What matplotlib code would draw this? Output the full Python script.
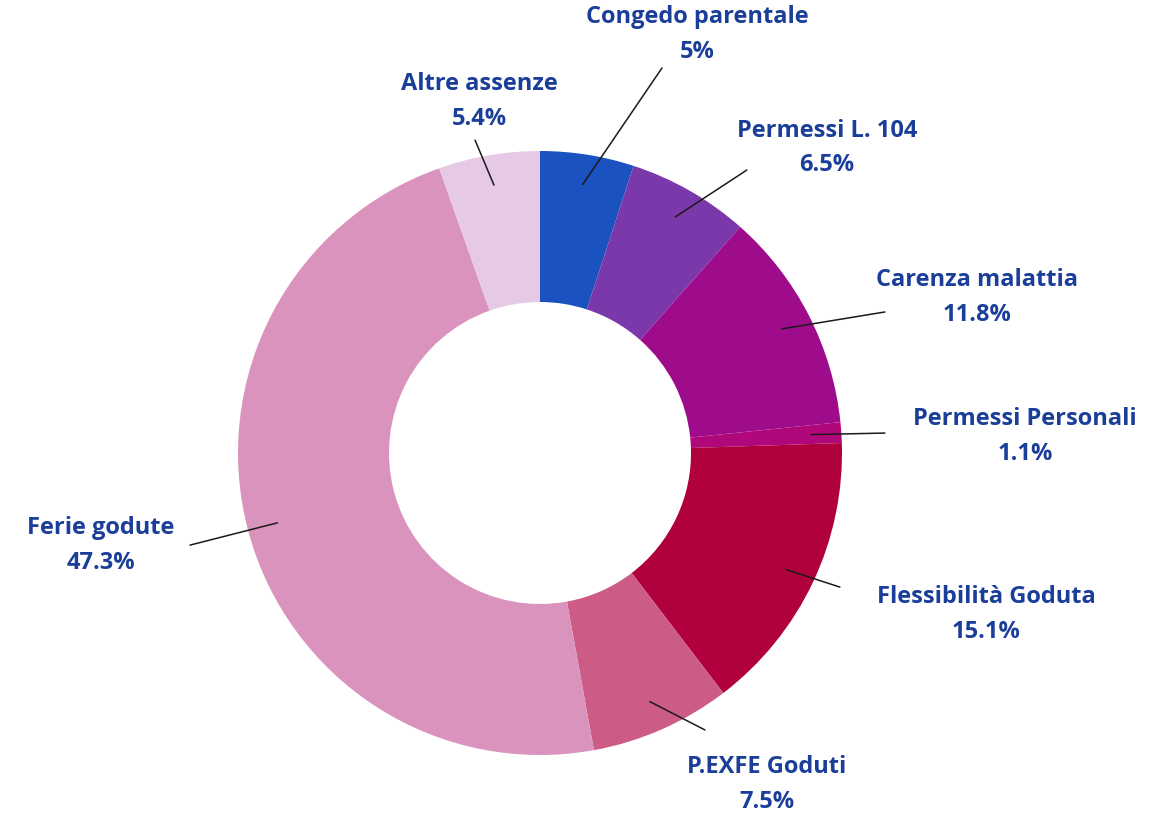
import matplotlib.pyplot as plt
import numpy as np

# Data
labels = ['Congedo parentale', 'Permessi L. 104', 'Carenza malattia', 'Permessi Personali',
          'Flessibilità Goduta', 'P.EXFE Goduti', 'Ferie godute', 'Altre assenze']
values = [5.0, 6.5, 11.8, 1.1, 15.1, 7.5, 47.3, 5.4]
pct_text = ['5%', '6.5%', '11.8%', '1.1%', '15.1%', '7.5%', '47.3%', '5.4%']
colors = ['#1a52bf', '#7b38ab', '#9e0b8b', '#b0087a', '#b0003e', '#cc5b86', '#da93bd', '#e6c9e4']

# Label layout (leader end and text centre, in radius units)
line_end = [(0.404, 1.275), (0.685, 0.937), (1.142, 0.467), (1.142, 0.066),
            (0.993, -0.444), (0.546, -0.917), (-1.159, -0.305), (-0.215, 1.036)]
text_pos = [(0.520, 1.385), (0.950, 1.010), (1.447, 0.515), (1.606, 0.055),
            (1.477, -0.534), (0.752, -1.098), (-1.454, -0.305), (-0.202, 1.165)]

plt.rcParams['font.family'] = ['Open Sans', 'DejaVu Sans']

fig = plt.figure(figsize=(11.57, 8.16), dpi=100)
ax = fig.add_axes([0, 0, 1, 1])

wedges, _ = ax.pie(values, colors=colors, startangle=90, counterclock=False,
                   radius=1, wedgeprops=dict(width=0.5, linewidth=0))

for i, w in enumerate(wedges):
    ang = np.deg2rad((w.theta1 + w.theta2) / 2)
    start = (0.9 * np.cos(ang), 0.9 * np.sin(ang))
    ax.annotate('', xy=start, xytext=line_end[i],
                arrowprops=dict(arrowstyle='-', color='#1a1a1a', lw=1.1,
                                shrinkA=0, shrinkB=0))
    ax.text(text_pos[i][0], text_pos[i][1], labels[i] + '\n' + pct_text[i],
            ha='center', va='center', fontsize=17, fontweight='bold',
            color='#1a3e99', linespacing=1.6)

ax.set_xlim(-540 / 302, (1157 - 540) / 302)
ax.set_ylim((453 - 816) / 302, 453 / 302)
ax.set_aspect('equal')
ax.axis('off')

plt.savefig('out.png', dpi=100)
